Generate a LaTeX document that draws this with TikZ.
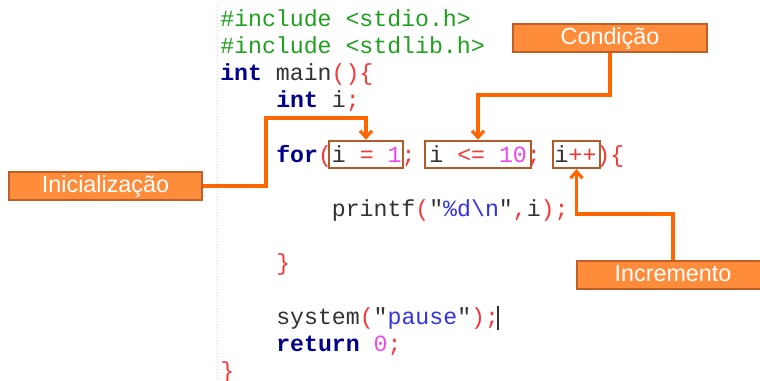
\documentclass[tikz,border=0pt]{standalone}
\usepackage{fontspec}
\setmainfont{Liberation Sans}
\newfontfamily\codefont{Liberation Mono}
\usetikzlibrary{arrows.meta}

\definecolor{kwblue}{RGB}{0,0,140}
\definecolor{incgreen}{RGB}{30,160,30}
\definecolor{punred}{RGB}{245,55,55}
\definecolor{numpink}{RGB}{240,70,240}
\definecolor{strblue}{RGB}{50,50,230}
\definecolor{idgray}{RGB}{50,50,50}
\definecolor{tagfill}{RGB}{255,140,58}
\definecolor{tagedge}{RGB}{190,95,40}
\definecolor{linkorange}{RGB}{255,102,0}
\definecolor{hiliteedge}{RGB}{180,90,40}

\newcommand{\kw}[1]{\textcolor{kwblue}{\textbf{#1}}}
\newcommand{\cpun}[1]{\textcolor{punred}{#1}}
\newcommand{\cnum}[1]{\textcolor{numpink}{#1}}
\newcommand{\cstr}[1]{\textcolor{strblue}{#1}}

\begin{document}
\begin{tikzpicture}[x=0.75pt,y=-0.75pt]
     % Define styles
     \tikzstyle{codeline} = [anchor=base west, inner sep=0pt, text=idgray, font=\codefont\fontsize{17.4}{20}\selectfont]
     \tikzstyle{tagbox} = [draw=tagedge, fill=tagfill, line width=1.5pt, minimum width=145pt, minimum height=21pt, inner sep=0pt, text=white, text height=12.5pt, text depth=3pt, font=\fontsize{17.5}{20}\selectfont]
     \tikzstyle{hilite} = [draw=hiliteedge, line width=1.8pt, minimum height=20.25pt, inner sep=0pt]
     \tikzstyle{link} = [draw=linkorange, line width=2.4pt, -{Straight Barb[length=5pt,width=9pt]}]

     % Page and editor margin
     \useasboundingbox (0,0) rectangle (760,381);
     \clip (0,0) rectangle (760,381);
     \fill[white] (0,0) rectangle (760,381);
     \draw[gray!35, dotted] (217,4) -- (217,381);

     % Code lines
     \node[codeline] (inc1) at (220,27) {\textcolor{incgreen}{\#include <stdio.h>}};
     \node[codeline] (inc2) at (220,54) {\textcolor{incgreen}{\#include <stdlib.h>}};
     \node[codeline] (main) at (220,81) {\kw{int} main\cpun{()\{}};
     \node[codeline] (decl) at (276,108) {\kw{int} i\cpun{;}};
     \node[codeline] (loop) at (276,162) {\kw{for}\cpun{(}i \cpun{=} \cnum{1}\cpun{;} i \cpun{<=} \cnum{10}\cpun{;} i\cpun{++)\{}};
     \node[codeline] (body) at (331.6,216) {printf\cpun{(}"\cstr{\%d\textbackslash n}"\cpun{,}i\cpun{);}};
     \node[codeline] (close) at (276,270) {\cpun{\}}};
     \node[codeline] (pause) at (276,324) {system\cpun{(}"\cstr{pause}"\cpun{);}};
     \node[codeline] (ret) at (276,351) {\kw{return} \cnum{0}\cpun{;}};
     \node[codeline] (end) at (220,378) {\cpun{\}}};

     % Text cursor
     \draw[idgray, line width=0.8pt] (498,306) -- (498,330);

     % Boxes round the three parts of the for
     \node[hilite, minimum width=55.5pt] (binit) at (366,154.5) {};
     \node[hilite, minimum width=79.5pt] (bcond) at (478,154.5) {};
     \node[hilite, minimum width=35.25pt] (binc) at (576.5,154.5) {};

     % Labels
     \node[tagbox] (tinit) at (105.5,186) {Inicialização};
     \node[tagbox] (tcond) at (610,38) {Condição};
     \node[tagbox, minimum width=144pt] (tinc) at (673,275) {Incremento};

     % Bends of the connectors
     \coordinate (initbend) at (266,118);
     \coordinate (condbend) at (478,95);
     \coordinate (incbend) at (576.5,214);

     % Connectors
     \draw[link] (tinit.east) -| (initbend) -| (binit.north);
     \draw[link] (tcond.south) |- (condbend) -- (bcond.north);
     \draw[link] (tinc.north) |- (incbend) -- (binc.south);

\end{tikzpicture}
\end{document}
